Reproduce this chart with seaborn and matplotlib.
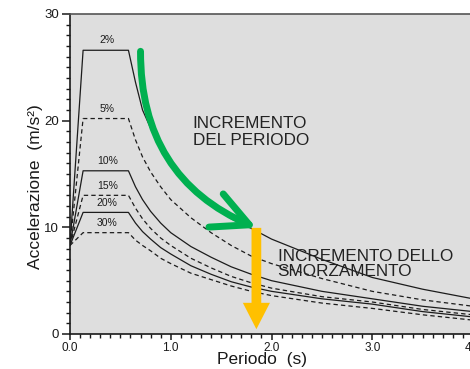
import matplotlib
matplotlib.use("Agg")
import matplotlib.pyplot as plt
import pandas as pd
import seaborn as sns
from matplotlib.patches import FancyArrowPatch
from matplotlib.ticker import MultipleLocator

# Response spectra: period (s) and spectral acceleration (m/s^2) per damping ratio
periodi = [0.0, 0.13, 0.58, 0.65, 0.72, 0.8, 0.9, 1.0, 1.2, 1.4, 1.6, 1.8, 2.0, 2.5, 3.0, 3.5, 4.0]
acc_2 = [8.3, 26.6, 26.6, 23.6, 21.0, 19.3, 17.6, 16.2, 14.0, 12.2, 10.8, 9.9, 8.9, 7.0, 5.3, 4.2, 3.3]
acc_5 = [8.3, 20.2, 20.2, 18.2, 16.6, 15.2, 13.8, 12.6, 10.9, 9.5, 8.3, 7.3, 6.6, 5.2, 4.0, 3.2, 2.6]
acc_10 = [8.3, 15.3, 15.3, 13.8, 12.6, 11.5, 10.4, 9.5, 8.2, 7.2, 6.3, 5.6, 5.0, 4.0, 3.3, 2.6, 2.1]
acc_15 = [8.3, 13.0, 13.0, 11.8, 10.8, 9.9, 9.0, 8.3, 7.1, 6.2, 5.4, 4.8, 4.3, 3.5, 3.0, 2.3, 1.8]
acc_20 = [8.3, 11.4, 11.4, 10.4, 9.6, 8.9, 8.1, 7.5, 6.4, 5.6, 4.9, 4.4, 4.0, 3.3, 2.8, 2.1, 1.6]
acc_30 = [8.3, 9.5, 9.5, 8.8, 8.3, 7.8, 7.1, 6.6, 5.7, 5.1, 4.5, 4.0, 3.6, 2.9, 2.4, 1.8, 1.3]
smorzamenti = ["2%", "5%", "10%", "15%", "20%", "30%"]
spettri = [acc_2, acc_5, acc_10, acc_15, acc_20, acc_30]

x_ticks = [0.0, 1.0, 2.0, 3.0, 4.0]
x_ticklabels = ["0.0", "1.0", "2.0", "3.0", "4.0"]
y_ticks = [0, 10, 20, 30]

# Arrow annotations (period, acceleration)
freccia_periodo = ((0.70, 26.5), (1.85, 9.95))
freccia_smorz = ((1.85, 9.95), (1.85, 0.45))

df = pd.concat(
    [pd.DataFrame({"Periodo": periodi, "Acc": a, "Smorzamento": s})
     for s, a in zip(smorzamenti, spettri)],
    ignore_index=True,
)

sns.set_theme(style="ticks")
plt.rcParams["font.family"] = ["Liberation Sans", "DejaVu Sans"]

fig = plt.figure(figsize=(4.70, 3.69), dpi=100)
fig.patch.set_facecolor("white")
ax = fig.add_axes([70 / 470, 35 / 369, 403 / 470, 320 / 369])
ax.set_facecolor("#dedede")

line_color = "#1c1c1c"
for i, s in enumerate(smorzamenti):
    sub = df[df["Smorzamento"] == s]
    sns.lineplot(data=sub, x="Periodo", y="Acc", ax=ax, color=line_color,
                 linewidth=0.9, legend=False, estimator=None, sort=False)
    if i % 2 == 1:
        ax.lines[-1].set_linestyle((0, (3.5, 2.5)))
    ax.text(0.37, max(spettri[i]) + 0.45, s, ha="center", va="bottom",
            fontsize=7.5, color=line_color)

ax.set_xlim(0, 4.0)
ax.set_ylim(0, 30)
ax.set_xticks(x_ticks)
ax.set_xticklabels(x_ticklabels)
ax.set_yticks(y_ticks)
ax.xaxis.set_minor_locator(MultipleLocator(0.1))
ax.yaxis.set_minor_locator(MultipleLocator(1))
ax.tick_params(which="major", direction="out", length=6, width=1.1, labelsize=9.5,
               pad=2, colors="#1a1a1a")
ax.tick_params(axis="x", which="major", length=4.5, pad=1.0, labelsize=8.5)
ax.tick_params(which="minor", direction="out", length=3, width=1.0, colors="#1a1a1a")

for side in ("left", "bottom"):
    ax.spines[side].set_color("#1a1a1a")
    ax.spines[side].set_linewidth(1.2)
ax.spines["top"].set_color("#555555")
ax.spines["top"].set_linewidth(1.2)
ax.spines["right"].set_visible(False)

ax.set_xlabel("Periodo  (s)", fontsize=12.5, color="#1a1a1a")
ax.set_ylabel("Accelerazione  (m/s²)", fontsize=12.5, color="#1a1a1a")
ax.xaxis.set_label_coords(0.476, -0.057)
ax.yaxis.set_label_coords(-0.067, 0.46)

ax.text(1.218, 20.4, "INCREMENTO\nDEL PERIODO", ha="left", va="top",
        fontsize=12.3, color="#222222", linespacing=1.15)
ax.text(2.06, 7.98, "INCREMENTO DELLO\nSMORZAMENTO", ha="left", va="top",
        fontsize=12.3, color="#222222", linespacing=1.05)

green = FancyArrowPatch(
    freccia_periodo[0], freccia_periodo[1],
    connectionstyle="arc3,rad=0.33",
    arrowstyle="->,head_length=26,head_width=13",
    color="#00b050", linewidth=5.0, capstyle="round", joinstyle="round",
    shrinkA=0, shrinkB=0, zorder=5,
)
ax.add_patch(green)

ax.annotate("", xy=freccia_smorz[1], xytext=freccia_smorz[0],
            arrowprops=dict(width=7, headwidth=19.5, headlength=19,
                            facecolor="#ffc000", edgecolor="none", shrink=0),
            zorder=6)

fig.savefig("out.png", dpi=100, facecolor="white")
